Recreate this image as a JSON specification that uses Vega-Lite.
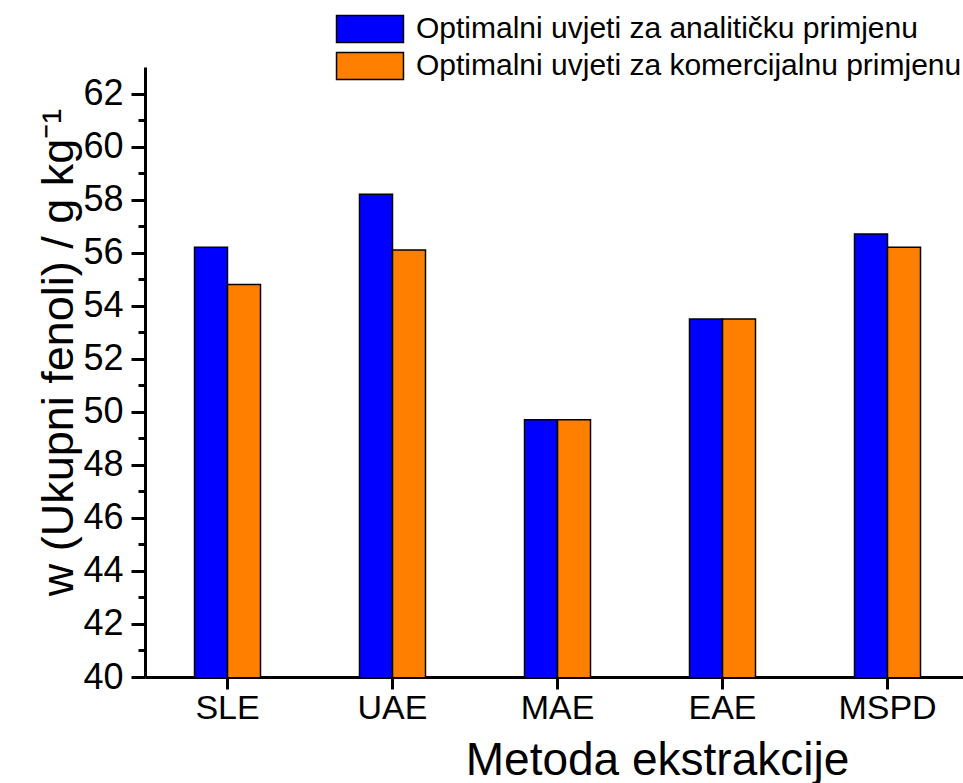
{
  "$schema": "https://vega.github.io/schema/vega-lite/v6.json",
  "autosize": "none",
  "padding": {"left": 145, "top": 67, "right": 0, "bottom": 106},
  "width": 825,
  "height": 610,
  "background": "white",
  "config": {
    "view": {"stroke": null},
    "font": "Liberation Sans"
  },
  "data": {
    "values": [
      {"metoda": "SLE", "uvjeti": "Optimalni uvjeti za analitičku primjenu", "w": 56.2},
      {"metoda": "SLE", "uvjeti": "Optimalni uvjeti za komercijalnu primjenu", "w": 54.8},
      {"metoda": "UAE", "uvjeti": "Optimalni uvjeti za analitičku primjenu", "w": 58.2},
      {"metoda": "UAE", "uvjeti": "Optimalni uvjeti za komercijalnu primjenu", "w": 56.1},
      {"metoda": "MAE", "uvjeti": "Optimalni uvjeti za analitičku primjenu", "w": 49.7},
      {"metoda": "MAE", "uvjeti": "Optimalni uvjeti za komercijalnu primjenu", "w": 49.7},
      {"metoda": "EAE", "uvjeti": "Optimalni uvjeti za analitičku primjenu", "w": 53.5},
      {"metoda": "EAE", "uvjeti": "Optimalni uvjeti za komercijalnu primjenu", "w": 53.5},
      {"metoda": "MSPD", "uvjeti": "Optimalni uvjeti za analitičku primjenu", "w": 56.7},
      {"metoda": "MSPD", "uvjeti": "Optimalni uvjeti za komercijalnu primjenu", "w": 56.2}
    ]
  },
  "mark": {"type": "bar", "stroke": "black", "strokeWidth": 1.5, "clip": true},
  "encoding": {
    "x": {
      "field": "metoda",
      "type": "nominal",
      "sort": ["SLE", "UAE", "MAE", "EAE", "MSPD"],
      "scale": {"paddingInner": 0.6, "paddingOuter": 0.3},
      "axis": {
        "title": "Metoda ekstrakcije",
        "titleFontSize": 46,
        "titleFontWeight": "normal",
        "titleColor": "black",
        "titleBaseline": "alphabetic",
        "titleX": 512,
        "titleY": 97,
        "labelAngle": 0,
        "labelFontSize": 34,
        "labelColor": "black",
        "labelPadding": 2,
        "domainColor": "black",
        "domainWidth": 3,
        "tickColor": "black",
        "tickWidth": 3,
        "tickSize": 12
      }
    },
    "xOffset": {
      "field": "uvjeti",
      "type": "nominal",
      "scale": {"paddingInner": 0, "paddingOuter": 0}
    },
    "y": {
      "field": "w",
      "type": "quantitative",
      "scale": {"domain": [40, 63], "nice": false, "zero": false},
      "axis": {
        "title": "w (Ukupni fenoli) / g kg⁻¹",
        "titleFontSize": 45,
        "titleFontWeight": "normal",
        "titleColor": "black",
        "titleX": -64,
        "titleY": 285,
        "values": [40,41,42,43,44,45,46,47,48,49,50,51,52,53,54,55,56,57,58,59,60,61,62],
        "labelExpr": "datum.value % 2 == 0 ? datum.label : ''",
        "labelFontSize": 36,
        "labelColor": "black",
        "labelPadding": 8,
        "grid": false,
        "domainColor": "black",
        "domainWidth": 3,
        "tickColor": "black",
        "tickWidth": 3,
        "tickSize": {"condition": {"test": "datum.value % 2 == 0", "value": 14}, "value": 7}
      }
    },
    "color": {
      "field": "uvjeti",
      "type": "nominal",
      "scale": {"range": ["#0000FF", "#FF8000"]},
      "legend": {
        "title": null,
        "orient": "none",
        "legendX": 210,
        "legendY": -53,
        "symbolType": "M-2.48,-1H2.48V1H-2.48Z",
        "symbolSize": 729,
        "symbolStrokeColor": "black",
        "symbolStrokeWidth": 1.5,
        "symbolOpacity": 1,
        "labelFontSize": 30,
        "labelColor": "black",
        "labelOffset": 31,
        "rowPadding": 3,
        "labelLimit": 700
      }
    }
  }
}
